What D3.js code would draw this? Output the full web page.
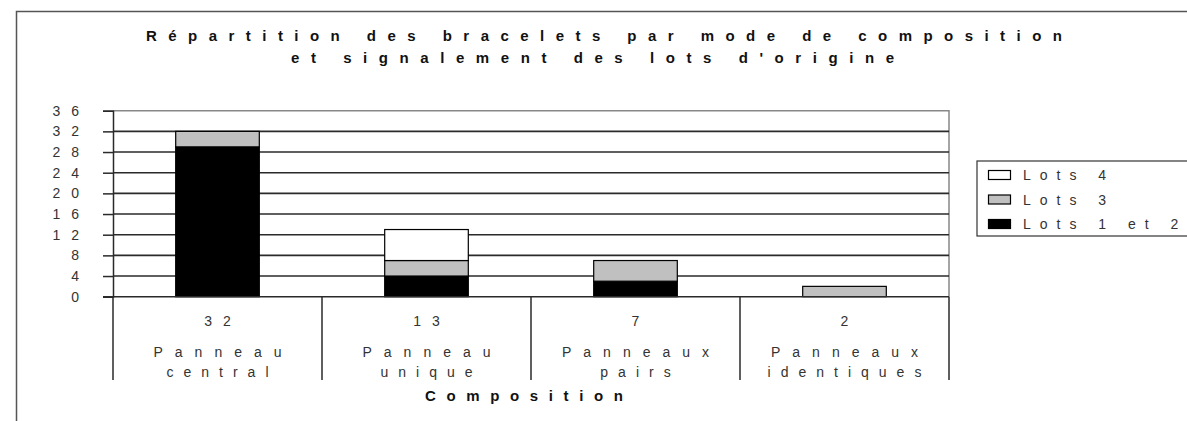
<!DOCTYPE html>
<html>
<head>
<meta charset="utf-8">
<script src="https://cdn.jsdelivr.net/npm/d3@7"></script>
<style>
  html, body { margin: 0; padding: 0; background: #fff; }
  svg { display: block; font-family: "Liberation Sans", Arial, sans-serif; }
</style>
</head>
<body>
<svg id="chart" width="1187" height="421"></svg>
<script>
// Composition categories (two-line labels)
const categories = ["Panneau central", "Panneau unique", "Panneaux pairs", "Panneaux identiques"];
const categoryLines = [["Panneau", "central"], ["Panneau", "unique"], ["Panneaux", "pairs"], ["Panneaux", "identiques"]];

// Series, stacked bottom to top
const seriesNames = ["Lots 1 et 2", "Lots 3", "Lots 4"];
const lots12 = [29, 4, 3, 0];
const lots3  = [3, 3, 4, 2];
const lots4  = [0, 6, 0, 0];
const seriesColors = ["#000000", "#c0c0c0", "#ffffff"];

// Y axis ticks
const yTicks = [0, 4, 8, 12, 16, 20, 24, 28, 32, 36];

const titleLines = ["Répartition des bracelets par mode de composition", "et signalement des lots d'origine"];
const xTitle = "Composition";

const svg = d3.select("#chart");

// Plot area
const plot = { left: 113, right: 949, top: 110.7, bottom: 296.7 };

const rows = categories.map((c, i) => ({ cat: c, lots12: lots12[i], lots3: lots3[i], lots4: lots4[i] }));
const keys = ["lots12", "lots3", "lots4"];
const stacked = d3.stack().keys(keys)(rows);

const x = d3.scaleBand().domain(categories).range([plot.left, plot.right]).paddingInner(0.6).paddingOuter(0.3);
const xCell = d3.scaleBand().domain(categories).range([plot.left, plot.right]).padding(0);
const y = d3.scaleLinear().domain([0, 36]).range([plot.bottom, plot.top]);

// Outer frame
svg.append("path")
  .attr("d", `M16.5,421 V11.5 H1187`)
  .attr("fill", "none").attr("stroke", "#555").attr("stroke-width", 1.5);

// Title
svg.append("text").attr("x", 146).attr("y", 41)
  .attr("font-size", 15).attr("font-weight", "bold").attr("fill", "#111")
  .attr("textLength", 916).attr("lengthAdjust", "spacing")
  .text(titleLines[0]);
svg.append("text").attr("x", 291).attr("y", 63)
  .attr("font-size", 15).attr("font-weight", "bold").attr("fill", "#111")
  .attr("textLength", 603).attr("lengthAdjust", "spacing")
  .text(titleLines[1]);

// Plot border (top and right)
svg.append("path")
  .attr("d", `M${plot.left},${y(36)} H${plot.right} V${plot.bottom}`)
  .attr("fill", "none").attr("stroke", "#888").attr("stroke-width", 1.5);

// Gridlines
svg.append("g").selectAll("line")
  .data(yTicks.filter(t => t > 0 && t < 36))
  .join("line")
  .attr("x1", plot.left).attr("x2", plot.right)
  .attr("y1", d => y(d)).attr("y2", d => y(d))
  .attr("stroke", "#2a2a2a").attr("stroke-width", 1.6);

// Y axis
const yAxis = svg.append("g").attr("transform", `translate(${plot.left},0)`)
  .call(d3.axisLeft(y).tickValues(yTicks).tickSize(10).tickPadding(13));
yAxis.select(".domain").attr("stroke", "#2a2a2a").attr("stroke-width", 1.5);
yAxis.selectAll(".tick line").attr("stroke", "#2a2a2a").attr("stroke-width", 1.5);
yAxis.selectAll(".tick text")
  .attr("font-family", "Liberation Sans, Arial, sans-serif")
  .attr("font-size", 14).attr("fill", "#333")
  .style("letter-spacing", "11px");

// Bars
svg.append("g").selectAll("g")
  .data(stacked)
  .join("g")
  .attr("fill", (d, i) => seriesColors[i])
  .selectAll("rect")
  .data(d => d.filter(s => s[1] - s[0] > 0))
  .join("rect")
  .attr("x", d => x(d.data.cat))
  .attr("width", x.bandwidth())
  .attr("y", d => y(d[1]))
  .attr("height", d => y(d[0]) - y(d[1]))
  .attr("stroke", "#000").attr("stroke-width", 1.2);

// Category table below the axis
const table = svg.append("g");
table.append("line")
  .attr("x1", 103).attr("x2", plot.right)
  .attr("y1", plot.bottom).attr("y2", plot.bottom)
  .attr("stroke", "#2a2a2a").attr("stroke-width", 1.5);
const seps = categories.map(c => xCell(c)).concat([plot.right]);
table.selectAll("line.sep")
  .data(seps)
  .join("line").attr("class", "sep")
  .attr("x1", d => d).attr("x2", d => d)
  .attr("y1", plot.bottom).attr("y2", 380)
  .attr("stroke", "#2a2a2a").attr("stroke-width", 1.5);

const totals = rows.map(r => r.lots12 + r.lots3 + r.lots4);
const cellText = (sel, ls) => sel
  .attr("text-anchor", "middle")
  .attr("font-size", 14).attr("fill", "#333")
  .attr("dx", ls / 2)
  .style("letter-spacing", ls + "px");

categories.forEach((c, i) => {
  const cx = xCell(c) + xCell.bandwidth() / 2;
  table.append("text").attr("x", cx).attr("y", 326).text(totals[i]).call(cellText, 11);
  table.append("text").attr("x", cx).attr("y", 357).text(categoryLines[i][0]).call(cellText, 12);
  table.append("text").attr("x", cx).attr("y", 377).text(categoryLines[i][1]).call(cellText, 10);
});

// X axis title
svg.append("text").attr("x", 425).attr("y", 401)
  .attr("font-size", 15).attr("font-weight", "bold").attr("fill", "#111")
  .attr("textLength", 198).attr("lengthAdjust", "spacing")
  .text(xTitle);

// Legend
const legend = svg.append("g");
legend.append("rect")
  .attr("x", 977).attr("y", 161).attr("width", 240).attr("height", 75)
  .attr("fill", "#fff").attr("stroke", "#333").attr("stroke-width", 1.2);
const legendOrder = [2, 1, 0];
legendOrder.forEach((si, k) => {
  const cy = 175 + k * 24.5;
  legend.append("rect")
    .attr("x", 988.5).attr("y", cy - 4.5).attr("width", 22).attr("height", 9)
    .attr("fill", seriesColors[si]).attr("stroke", "#000").attr("stroke-width", 1.2);
  legend.append("text")
    .attr("x", 1023).attr("y", cy + 5)
    .attr("font-size", 14).attr("fill", "#333")
    .style("letter-spacing", "9px")
    .text(seriesNames[si]);
});
</script>
</body>
</html>
